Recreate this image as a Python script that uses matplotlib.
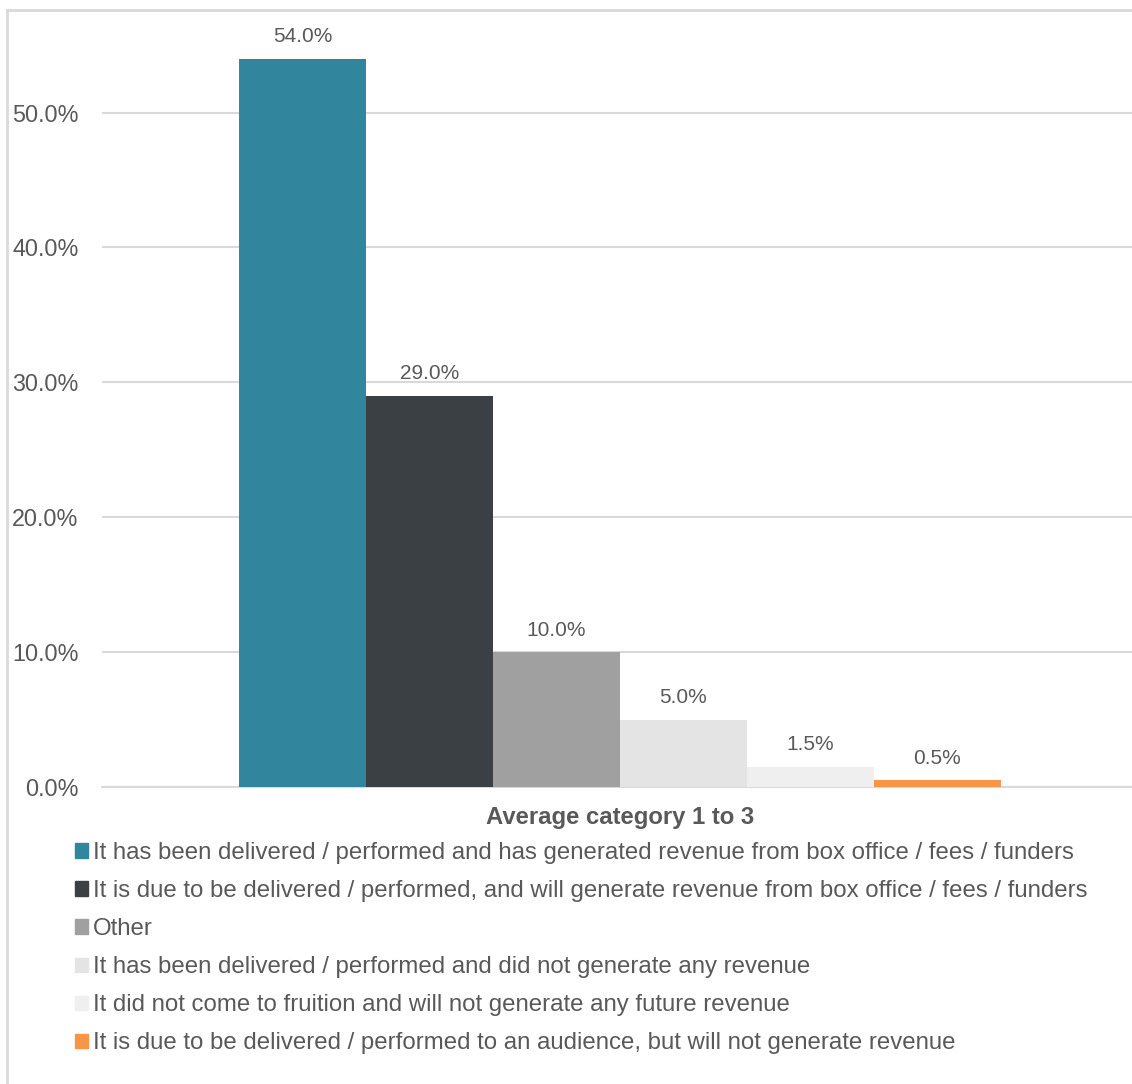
import matplotlib.pyplot as plt
import matplotlib.patches as mpatches
from matplotlib.lines import Line2D
from matplotlib.ticker import PercentFormatter

plt.rcParams['font.family'] = ['Liberation Sans', 'DejaVu Sans']

# data
category = 'Average category 1 to 3'
series = [
    'It has been delivered / performed and has generated revenue from box office / fees / funders',
    'It is due to be delivered / performed, and will generate revenue from box office / fees / funders',
    'Other',
    'It has been delivered / performed and did not generate any revenue',
    'It did not come to fruition and will not generate any future revenue',
    'It is due to be delivered / performed to an audience, but will not generate revenue',
]
values = [0.54, 0.29, 0.10, 0.05, 0.015, 0.005]
colors = ['#31859C', '#3B4044', '#A0A0A0', '#E4E4E4', '#EFEFEF', '#F79646']

text_col = '#595959'
grid_col = '#D9D9D9'

W, H = 1132, 1084
fig = plt.figure(figsize=(W / 100, H / 100), dpi=100)
ax = fig.add_axes([102 / W, (H - 787) / H, 1036 / W, 777 / H])

bw = 127 / 1036
n = len(values)
for i, (v, c, s) in enumerate(zip(values, colors, series)):
    x = (i - (n - 1) / 2) * bw
    b = ax.bar(x, v, width=bw, color=c, label=s, zorder=3)
    ax.bar_label(b, labels=[f'{v * 100:.1f}%'], padding=9, fontsize=15, color=text_col)

ax.set_xlim(-0.5, 0.5)
ax.set_ylim(0, 0.576)
ax.set_yticks([0, 0.1, 0.2, 0.3, 0.4, 0.5])
ax.yaxis.set_major_formatter(PercentFormatter(1.0, decimals=1))
ax.set_xticks([0])
ax.set_xticklabels([category], fontweight='bold')
ax.tick_params(axis='x', length=0, pad=14, labelsize=17.2, labelcolor=text_col)
ax.tick_params(axis='y', length=0, pad=17, labelsize=16.8, labelcolor=text_col)
ax.grid(axis='y', color=grid_col, linewidth=1.5, zorder=0)
for sp in ['top', 'right', 'left']:
    ax.spines[sp].set_visible(False)
ax.spines['bottom'].set_color(grid_col)
ax.spines['bottom'].set_linewidth(1.5)

# legend
handles = [mpatches.Patch(color=c) for c in colors]
fig.legend(handles, series, loc='upper left', bbox_to_anchor=(75 / W, 1 - 842 / H),
           frameon=False, fontsize=17.3, labelcolor=text_col,
           handlelength=0.55, handleheight=0.55, handletextpad=0.2,
           labelspacing=0.67, borderaxespad=0, borderpad=0)

# outer border (top and left)
fig.add_artist(Line2D([7 / W, 1], [1 - 10 / H, 1 - 10 / H], color=grid_col, linewidth=2))
fig.add_artist(Line2D([7 / W, 7 / W], [0, 1 - 10 / H], color=grid_col, linewidth=2))

fig.savefig('out.png', dpi=100)
